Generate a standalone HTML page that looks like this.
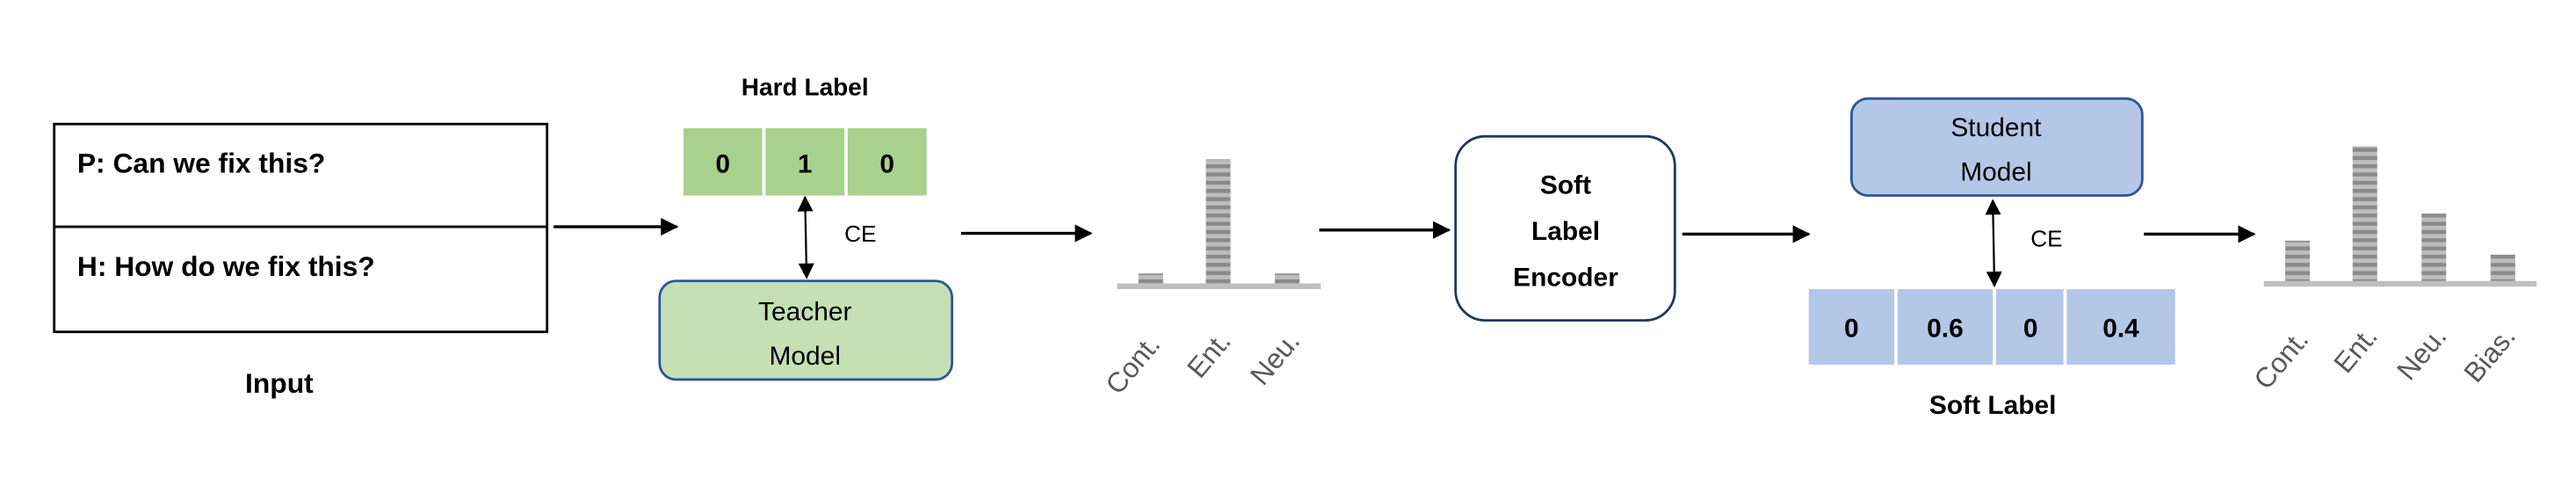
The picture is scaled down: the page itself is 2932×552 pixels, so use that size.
<!DOCTYPE html>
<html><head><meta charset="utf-8"><style>
html,body{margin:0;padding:0;background:#fff;}
svg{display:block;}
text{font-family:"Liberation Sans Narrow","Liberation Sans",sans-serif;}
</style></head><body>
<svg width="2932" height="552" viewBox="0 0 1568 295.2" preserveAspectRatio="none" xmlns="http://www.w3.org/2000/svg">
<defs>
<pattern id="st" width="16" height="5" patternUnits="userSpaceOnUse">
<rect width="16" height="5" fill="#bdbdbd"/>
<rect width="16" height="2.4" fill="#8a8a8a"/>
</pattern>
<marker id="ah" viewBox="0 0 10 10" refX="9" refY="5" markerWidth="6" markerHeight="7" orient="auto-start-reverse" markerUnits="strokeWidth">
<path d="M0,0 L10,5 L0,10 z" fill="#000"/>
</marker>
<marker id="ah2" viewBox="0 0 10 10" refX="9" refY="5" markerWidth="10" markerHeight="8" orient="auto-start-reverse" markerUnits="strokeWidth">
<path d="M0,0 L10,5 L0,10 z" fill="#000"/>
</marker>
</defs>

<rect x="33" y="75.5" width="300" height="126.5" fill="#fff" stroke="#000" stroke-width="1.5"/>
<line x1="33" y1="138" x2="333" y2="138" stroke="#000" stroke-width="1.5"/>
<text x="47" y="105" font-size="17" font-weight="bold">P: Can we fix this?</text>
<text x="47" y="168" font-size="17" font-weight="bold">H: How do we fix this?</text>
<text x="170" y="239" font-size="17" font-weight="bold" text-anchor="middle">Input</text>

<line x1="337" y1="138" x2="412" y2="138" stroke="#000" stroke-width="1.8" marker-end="url(#ah)"/>

<text x="490" y="58" font-size="15" font-weight="bold" text-anchor="middle">Hard Label</text>
<rect x="416" y="78" width="48" height="41" fill="#a9d18e"/>
<rect x="466" y="78" width="48" height="41" fill="#a9d18e"/>
<rect x="516" y="78" width="48" height="41" fill="#a9d18e"/>
<text x="440" y="105" font-size="16" font-weight="bold" text-anchor="middle">0</text>
<text x="490" y="105" font-size="16" font-weight="bold" text-anchor="middle">1</text>
<text x="540" y="105" font-size="16" font-weight="bold" text-anchor="middle">0</text>
<line x1="490" y1="120" x2="491" y2="169" stroke="#000" stroke-width="1.2" marker-start="url(#ah2)" marker-end="url(#ah2)"/>
<text x="514" y="147" font-size="14">CE</text>

<rect x="401.5" y="171" width="178" height="60" rx="10" fill="#c5e0b4" stroke="#2f5597" stroke-width="1.5"/>
<text x="490" y="195" font-size="16" text-anchor="middle">Teacher</text>
<text x="490" y="222" font-size="16" text-anchor="middle">Model</text>

<line x1="585" y1="142" x2="664" y2="142" stroke="#000" stroke-width="1.8" marker-end="url(#ah)"/>

<rect x="680" y="172.5" width="124" height="3.5" fill="#bfbfbf"/>
<rect x="693" y="166.5" width="15" height="6" fill="url(#st)"/>
<rect x="734" y="97" width="15" height="75.5" fill="url(#st)"/>
<rect x="776" y="166.5" width="15" height="6" fill="url(#st)"/>
<g font-size="17" fill="#595959">
<text transform="translate(707,210) rotate(-50)" text-anchor="end">Cont.</text>
<text transform="translate(750,208) rotate(-50)" text-anchor="end">Ent.</text>
<text transform="translate(792,208) rotate(-50)" text-anchor="end">Neu.</text>
</g>

<line x1="803" y1="140" x2="882" y2="140" stroke="#000" stroke-width="1.8" marker-end="url(#ah)"/>

<rect x="886" y="83" width="133.5" height="112" rx="18" fill="#fff" stroke="#1f3864" stroke-width="1.5"/>
<text x="953" y="118" font-size="16" font-weight="bold" text-anchor="middle">Soft</text>
<text x="953" y="146" font-size="16" font-weight="bold" text-anchor="middle">Label</text>
<text x="953" y="174" font-size="16" font-weight="bold" text-anchor="middle">Encoder</text>

<line x1="1024" y1="142.5" x2="1101" y2="142.5" stroke="#000" stroke-width="1.8" marker-end="url(#ah)"/>

<rect x="1127" y="60" width="177" height="59" rx="10" fill="#b4c7e7" stroke="#2f5597" stroke-width="1.5"/>
<text x="1215" y="83" font-size="16" text-anchor="middle">Student</text>
<text x="1215" y="110" font-size="16" text-anchor="middle">Model</text>
<line x1="1213" y1="122" x2="1214" y2="174" stroke="#000" stroke-width="1.2" marker-start="url(#ah2)" marker-end="url(#ah2)"/>
<text x="1236" y="150" font-size="14">CE</text>

<rect x="1101" y="176" width="52" height="46" fill="#b4c7e7"/>
<rect x="1155" y="176" width="58" height="46" fill="#b4c7e7"/>
<rect x="1215" y="176" width="41" height="46" fill="#b4c7e7"/>
<rect x="1258" y="176" width="66" height="46" fill="#b4c7e7"/>
<text x="1127" y="205" font-size="16" font-weight="bold" text-anchor="middle">0</text>
<text x="1184" y="205" font-size="16" font-weight="bold" text-anchor="middle">0.6</text>
<text x="1236" y="205" font-size="16" font-weight="bold" text-anchor="middle">0</text>
<text x="1291" y="205" font-size="16" font-weight="bold" text-anchor="middle">0.4</text>
<text x="1213" y="252" font-size="16" font-weight="bold" text-anchor="middle">Soft Label</text>

<line x1="1305" y1="142.5" x2="1372" y2="142.5" stroke="#000" stroke-width="1.8" marker-end="url(#ah)"/>

<rect x="1378" y="171" width="166" height="3.5" fill="#bfbfbf"/>
<rect x="1391" y="146.5" width="15" height="24.5" fill="url(#st)"/>
<rect x="1432" y="89" width="15" height="82" fill="url(#st)"/>
<rect x="1474" y="130" width="15" height="41" fill="url(#st)"/>
<rect x="1516" y="155" width="15" height="16" fill="url(#st)"/>
<g font-size="17" fill="#595959">
<text transform="translate(1406,207) rotate(-50)" text-anchor="end">Cont.</text>
<text transform="translate(1448,205) rotate(-50)" text-anchor="end">Ent.</text>
<text transform="translate(1490,205) rotate(-50)" text-anchor="end">Neu.</text>
<text transform="translate(1532,205) rotate(-50)" text-anchor="end">Bias.</text>
</g>
</svg>
</body></html>
